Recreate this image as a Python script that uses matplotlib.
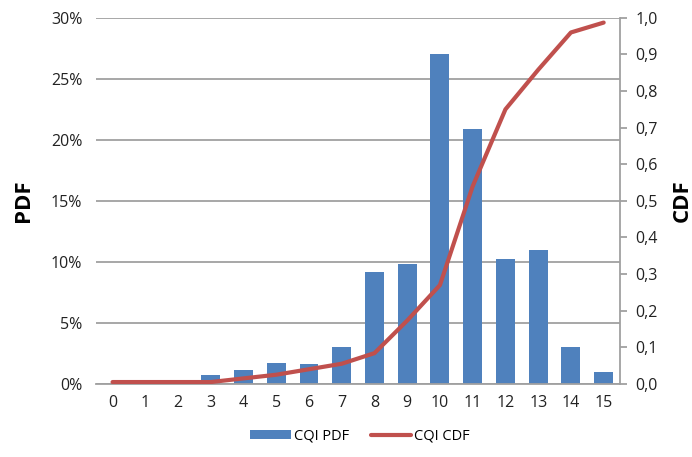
import matplotlib.pyplot as plt
import matplotlib.ticker as mticker
import numpy as np

plt.rcParams['font.family'] = ['Open Sans', 'DejaVu Sans']

cqi = np.arange(0, 16)
pdf = np.array([0.0, 0.0, 0.0, 0.7, 1.1, 1.7, 1.6, 3.0, 9.2, 9.8, 27.0, 20.9, 10.2, 11.0, 3.0, 1.0]) / 100
cdf = np.array([0.005, 0.005, 0.005, 0.005, 0.015, 0.025, 0.04, 0.055, 0.084, 0.173, 0.27, 0.54, 0.75, 0.858, 0.96, 0.987])

bar_color = "#4F81BD"
line_color = "#C0504D"
grid_color = "#A0A0A0"

fig = plt.figure(figsize=(6.92, 4.57), dpi=100)
ax = fig.add_axes([0.139, 0.160, 0.757, 0.801])
ax2 = ax.twinx()

ax.bar(cqi, pdf, width=0.58, color=bar_color, label="CQI PDF", zorder=2)
ax2.plot(cqi, cdf, color=line_color, linewidth=3, label="CQI CDF", solid_capstyle="round")

ax.set_xlim(-0.5, 15.5)
ax.set_ylim(0, 0.30)
ax.set_yticks(np.arange(0, 0.31, 0.05))
ax.yaxis.set_major_formatter(mticker.FuncFormatter(lambda v, p: f"{v*100:.0f}%"))
ax.set_xticks(cqi)
ax.grid(axis="y", color=grid_color, linewidth=1.3, zorder=0)
ax.set_axisbelow(True)
for s in ["left", "top", "right"]:
    ax.spines[s].set_visible(False)
ax.spines["bottom"].set_color(grid_color)
ax.spines["bottom"].set_linewidth(1.3)
ax.tick_params(axis="y", length=0, pad=10, labelsize=11.5, colors="#222222")
ax.tick_params(axis="x", length=0, pad=8, labelsize=11.5, colors="#222222")
ax.set_ylabel("PDF", fontsize=16, fontweight="bold", labelpad=12)

ax2.set_ylim(0, 1.0)
ax2.set_yticks(np.arange(0, 1.01, 0.1))
ax2.yaxis.set_major_formatter(mticker.FuncFormatter(lambda v, p: f"{v:.1f}".replace(".", ",")))
for s in ["left", "top", "bottom"]:
    ax2.spines[s].set_visible(False)
ax2.spines["right"].set_color(grid_color)
ax2.spines["right"].set_linewidth(1.3)
ax2.tick_params(axis="y", length=5, width=1.3, color=grid_color, pad=6, labelsize=11.5, labelcolor="#222222")
ax2.set_ylabel("CDF", fontsize=16, fontweight="bold", labelpad=10)

h1, l1 = ax.get_legend_handles_labels()
h2, l2 = ax2.get_legend_handles_labels()
fig.legend(h1 + h2, l1 + l2, loc="lower center", bbox_to_anchor=(0.52, 0.0), ncol=2,
           frameon=False, fontsize=10.5, handlelength=2.8, handleheight=0.6,
           columnspacing=1.5, handletextpad=0.2)

fig.savefig("out.png", dpi=100)
